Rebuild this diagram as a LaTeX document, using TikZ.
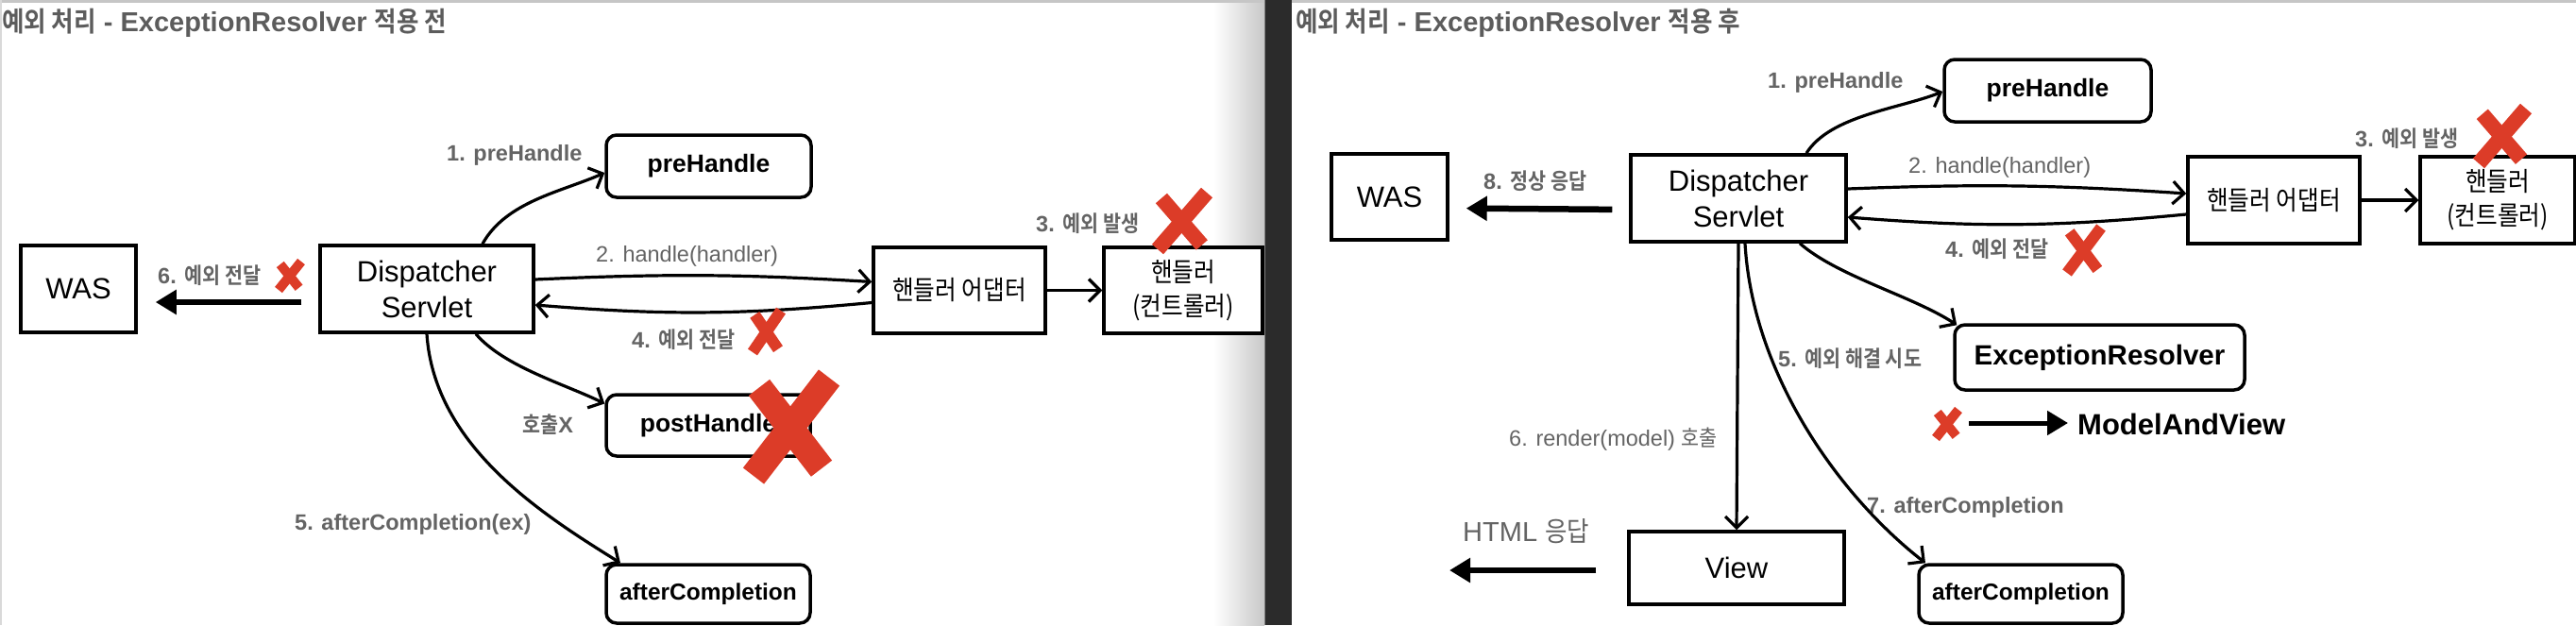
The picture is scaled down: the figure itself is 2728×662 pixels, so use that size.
\documentclass[tikz,border=0pt]{standalone}
\usepackage{fontspec}
\setmainfont{Liberation Sans}
\newfontfamily\krfont[FakeStretch=0.88,BoldFont={* Bold}]{Noto Sans CJK KR}
\newcommand{\hk}[1]{{\krfont #1}}
\usetikzlibrary{arrows.meta,calc}
\definecolor{lblgray}{RGB}{100,100,100}
\definecolor{titlegray}{RGB}{92,92,92}
\definecolor{xred}{RGB}{220,60,40}
\definecolor{darkband}{RGB}{43,43,43}
\definecolor{edgegray}{RGB}{200,200,200}
\newcommand{\redx}[5]{%
  \draw[xred,line width=#5,line cap=butt] ({#1+#3},{#2-#4}) -- ({#1-#3},{#2+#4});
  \draw[xred,line width=#5,line cap=butt] ({#1-0.85*#3},{#2-0.8*#4}) -- ({#1+0.8*#3},{#2+0.85*#4});
}
\begin{document}
\begin{tikzpicture}[x=1pt,y=-1pt,
  box/.style={draw=black,fill=white,line width=3.5pt,inner sep=0pt,align=center},
  rbox/.style={box,rounded corners=11pt},
  txtreg/.style={font=\fontsize{31}{38}\selectfont},
  krtxt/.style={font=\fontsize{28}{36}\selectfont},
  boldA/.style={font=\bfseries\fontsize{26.5}{32}\selectfont},
  boldB/.style={font=\bfseries\fontsize{24.5}{30}\selectfont},
  boldC/.style={font=\bfseries\fontsize{29.5}{34}\selectfont},
  lblb/.style={anchor=base west,inner sep=0pt,text=lblgray,font=\bfseries\fontsize{23.5}{28}\selectfont},
  lblr/.style={anchor=base west,inner sep=0pt,text=lblgray,font=\fontsize{23.5}{28}\selectfont},
  conn/.style={draw=black,line width=3.2pt,-{Straight Barb[length=12pt,width=24pt]}},
  fatarrow/.style={draw=black,line width=6.5pt,-{Triangle[length=22pt,width=25pt]}},
  ttl/.style={anchor=base west,inner sep=0pt,text=titlegray,font=\bfseries\fontsize{29}{34}\selectfont}
]
\useasboundingbox (0,0) rectangle (2728,662);
% ---------- background ----------
\fill[white] (0,0) rectangle (2728,662);
\shade[left color=white,right color=edgegray] (1285,0) rectangle (1339,662);
\fill[darkband] (1339,0) rectangle (1368,662);
\draw[gray,line width=1.5pt] (1339.5,0) -- (1339.5,662);
\fill[gray!45] (0,0) rectangle (1339,2.5);
\fill[gray!45] (1368,0) rectangle (2728,2.5);
\fill[gray!30] (0,0) rectangle (1.5,662);

% ---------- titles ----------
\node[ttl] (t1) at (2,33) {\hk{예외 처리} - ExceptionResolver \hk{적용 전}};
\node[ttl] (t2) at (1372,33) {\hk{예외 처리} - ExceptionResolver \hk{적용 후}};

% ---------- left panel nodes ----------
\node[box,txtreg,minimum width=122pt,minimum height=92pt] (was) at (83,306) {WAS};
\node[box,txtreg,minimum width=226pt,minimum height=92pt] (ds) at (452,306) {Dispatcher\\Servlet};
\node[rbox,boldA,minimum width=217pt,minimum height=66pt] (pre) at (750.5,176) {preHandle};
\node[box,krtxt,minimum width=182pt,minimum height=91pt] (ada) at (1016,307.5) {\hk{핸들러 어댑터}};
\node[box,krtxt,minimum width=168pt,minimum height=91pt] (hdl) at (1253,307.5) {\hk{핸들러}\\\hk{(컨트롤러)}};
\node[rbox,boldA,minimum width=216pt,minimum height=65pt] (post) at (750,450.5) {postHandle};
\node[rbox,boldB,minimum width=216pt,minimum height=62pt] (aft) at (750,629) {afterCompletion};

% ---------- left panel labels ----------
\node[lblb] (l1) at (473,170) {1. preHandle};
\node[lblr] (l2) at (631,277) {2. handle(handler)};
\node[lblb] (l3) at (1097,245) {3. \hk{예외 발생}};
\node[lblb] (l4) at (669,368) {4. \hk{예외 전달}};
\node[lblb] (l6) at (167,300) {6. \hk{예외 전달}};
\node[lblb] (lx) at (553,458) {\hk{호출}X};
\node[lblb] (l5) at (312,561) {5. afterCompletion(ex)};

% ---------- left panel connectors ----------
\draw[conn] ([xshift=59pt]ds.north) .. controls +(25,-45) and +(-45,20) .. ([yshift=-7pt]pre.west);
\draw[conn] ([yshift=10pt]ds.east) to[bend left=3] ([yshift=9pt]ada.west);
\draw[conn] ([yshift=-13pt]ada.west) to[bend left=5] ([yshift=-17pt]ds.east);
\draw[conn] (ada.east) -- (hdl.west);
\draw[conn] ([xshift=52pt]ds.south) .. controls +(30,35) and +(-40,-20) .. ([yshift=23pt]post.west);
\draw[conn] (ds.south) .. controls +(8,120) and +(-80,-50) .. ([xshift=-93pt]aft.north);
\draw[fatarrow,shorten <=18pt,shorten >=19pt] ([yshift=-14pt]ds.west) -- ([yshift=-14pt]was.east);

% ---------- right panel nodes ----------
\node[box,txtreg,minimum width=123pt,minimum height=91pt] (was2) at (1471.5,208.5) {WAS};
\node[box,txtreg,minimum width=228pt,minimum height=92pt] (ds2) at (1841,210) {Dispatcher\\Servlet};
\node[rbox,boldA,minimum width=219pt,minimum height=66pt] (pre2) at (2168.5,96) {preHandle};
\node[box,krtxt,minimum width=182pt,minimum height=92pt] (ada2) at (2408,212) {\hk{핸들러 어댑터}};
\node[box,krtxt,minimum width=164pt,minimum height=92pt] (hdl2) at (2645,212) {\hk{핸들러}\\\hk{(컨트롤러)}};
\node[rbox,boldC,minimum width=307pt,minimum height=69pt] (er2) at (2223.5,378.5) {ExceptionResolver};
\node[box,txtreg,minimum width=228pt,minimum height=77pt] (view2) at (1839,601.5) {View};
\node[rbox,boldB,minimum width=216pt,minimum height=62pt] (aft2) at (2140,629) {afterCompletion};
\node[anchor=base west,inner sep=0pt,font=\bfseries\fontsize{31}{36}\selectfont] (mav) at (2200,460) {ModelAndView};
\coordinate (mavstart) at (2085,448);
\coordinate (htmlend) at (1535,604);

% ---------- right panel labels ----------
\node[lblb] (r8) at (1571,200) {8. \hk{정상 응답}};
\node[lblb] (r1) at (1872,93) {1. preHandle};
\node[lblr] (r2) at (2021,183) {2. handle(handler)};
\node[lblb] (r4) at (2060,272) {4. \hk{예외 전달}};
\node[lblb] (r3) at (2494,155) {3. \hk{예외 발생}};
\node[lblb] (r5) at (1883,388) {5. \hk{예외 해결 시도}};
\node[lblr] (r6) at (1598,472) {6. render(model) \hk{호출}};
\node[lblr,font=\fontsize{29}{34}\selectfont] (rh) at (1549,573) {HTML \hk{응답}};
\node[lblb] (r7) at (1977,543) {7. afterCompletion};

% ---------- right panel connectors ----------
\draw[conn] ([xshift=72pt]ds2.north) .. controls +(25,-40) and +(-45,18) .. ([yshift=-1pt]pre2.west);
\draw[conn] ([yshift=10pt]ds2.east) to[bend left=3] ([yshift=7pt]ada2.west);
\draw[conn] ([yshift=-15pt]ada2.west) to[bend left=5] ([yshift=-20pt]ds2.east);
\draw[conn] (ada2.east) -- (hdl2.west);
\draw[conn] ([xshift=65pt]ds2.south) .. controls +(40,35) and +(-45,-30) .. ([xshift=4pt,yshift=-2pt]er2.north west);
\draw[conn] (ds2.south) -- (view2.north);
\draw[conn] ([xshift=7pt]ds2.south) .. controls +(8,140) and +(-90,-70) .. ([xshift=-101pt]aft2.north);
\draw[fatarrow,shorten <=18pt,shorten >=18pt] ([yshift=-12pt]ds2.west) -- ([yshift=-12pt]was2.east);
\draw[fatarrow,shorten <=33pt] ([yshift=-2.5pt]view2.west) -- (htmlend);
\draw[fatarrow,line width=5pt,shorten >=10pt] (mavstart) -- (mav.west |- mavstart);

% ---------- red crosses ----------
\redx{307}{292}{12}{15}{10pt}
\redx{812}{351}{15}{22}{12pt}
\redx{1252}{234}{26}{30}{16pt}
\redx{838}{452}{40}{52}{28pt}
\redx{2207}{265}{18}{24}{12pt}
\redx{2650}{144}{25}{29}{16pt}
\redx{2062}{449}{12}{15}{10pt}
\end{tikzpicture}
\end{document}
